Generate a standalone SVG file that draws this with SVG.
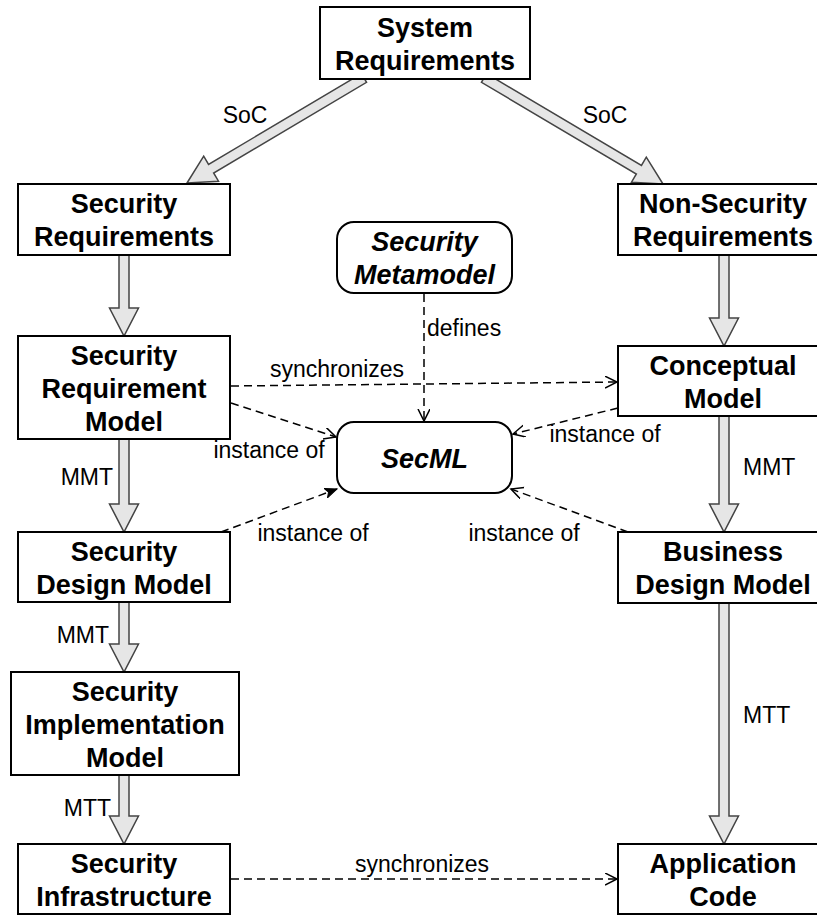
<svg xmlns="http://www.w3.org/2000/svg" width="817" height="915" viewBox="0 0 817 915">
<style>
.box{fill:#fff;stroke:#000;stroke-width:2}
.rbox{fill:#fff;stroke:#000;stroke-width:2}
.t{font-family:"Liberation Sans",Arial,sans-serif;font-size:27px;font-weight:bold;text-anchor:middle;fill:#000}
.ti{font-family:"Liberation Sans",Arial,sans-serif;font-size:27px;font-weight:bold;font-style:italic;text-anchor:middle;fill:#000}
.lbl{font-family:"Liberation Sans",Arial,sans-serif;font-size:23px;fill:#000}
.blk{fill:#e6e6e6;stroke:#444;stroke-width:1.5;stroke-linejoin:miter}
.dash{fill:none;stroke:#000;stroke-width:1.5;stroke-dasharray:8 5}
</style>
<defs>
<marker id="open" markerUnits="userSpaceOnUse" markerWidth="14" markerHeight="14" refX="12" refY="6" orient="auto">
<path d="M0,0 L12,6 L0,12" fill="none" stroke="#000" stroke-width="1.5"/>
</marker>
<marker id="filled" markerUnits="userSpaceOnUse" markerWidth="14" markerHeight="14" refX="12" refY="5" orient="auto">
<path d="M0,0 L12,5 L0,10 L3,5 Z" fill="#000" stroke="#000" stroke-width="1"/>
</marker>
</defs>
<g id="connectors">
<polygon class="blk" points="361.45,73.7 208.55,164.4 203.7,156.2 187,183 218.5,181.2 213.65,173 366.55,82.3"/>
<polygon class="blk" points="486.55,73.7 641.45,165.4 646.3,157.2 663,184 631.5,182.2 636.35,174 481.45,82.3"/>
<polygon class="blk" points="119,255 129,255 129,308 138.5,308 124,336 109.5,308 119,308"/>
<polygon class="blk" points="119,439 129,439 129,504 138.5,504 124,532 109.5,504 119,504"/>
<polygon class="blk" points="119,602 129,602 129,644 138.5,644 124,672 109.5,644 119,644"/>
<polygon class="blk" points="119,775 129,775 129,816 138.5,816 124,844 109.5,816 119,816"/>
<polygon class="blk" points="719,255 729,255 729,318 738.5,318 724,346 709.5,318 719,318"/>
<polygon class="blk" points="719,416 729,416 729,504 738.5,504 724,532 709.5,504 719,504"/>
<polygon class="blk" points="719,603 729,603 729,816 738.5,816 724,844 709.5,816 719,816"/>
<path class="dash" d="M231,386 L617,382" marker-end="url(#open)"/>
<path class="dash" d="M424,294 L424,421" marker-end="url(#open)"/>
<path class="dash" d="M231,403 L336,437" marker-end="url(#open)"/>
<path class="dash" d="M221,532 L337,489" marker-end="url(#filled)"/>
<path class="dash" d="M618,408 L513,434" marker-end="url(#open)"/>
<path class="dash" d="M628,532 L511,489" marker-end="url(#open)"/>
<path class="dash" d="M231,879 L617,879" marker-end="url(#open)"/>
<text class="lbl" x="245" y="123" text-anchor="middle">SoC</text>
<text class="lbl" x="605" y="123" text-anchor="middle">SoC</text>
<text class="lbl" x="337" y="377" text-anchor="middle">synchronizes</text>
<text class="lbl" x="427" y="336">defines</text>
<text class="lbl" x="269" y="458" text-anchor="middle">instance of</text>
<text class="lbl" x="313" y="541" text-anchor="middle">instance of</text>
<text class="lbl" x="605" y="442" text-anchor="middle">instance of</text>
<text class="lbl" x="524" y="541" text-anchor="middle">instance of</text>
<text class="lbl" x="113" y="485" text-anchor="end">MMT</text>
<text class="lbl" x="109" y="643" text-anchor="end">MMT</text>
<text class="lbl" x="111" y="816" text-anchor="end">MTT</text>
<text class="lbl" x="743" y="475">MMT</text>
<text class="lbl" x="743" y="723">MTT</text>
<text class="lbl" x="422" y="872" text-anchor="middle">synchronizes</text>
</g>
<g id="system-requirements">
<rect class="box" x="320" y="7" width="210" height="72"/>
<text class="t" x="425" y="36.5">System</text>
<text class="t" x="425" y="69.5">Requirements</text>
</g>
<g id="security-requirements">
<rect class="box" x="18" y="184" width="212" height="71"/>
<text class="t" x="124" y="213">Security</text>
<text class="t" x="124" y="246">Requirements</text>
</g>
<g id="non-security-requirements">
<rect class="box" x="618" y="184" width="212" height="71"/>
<text class="t" x="723" y="213">Non-Security</text>
<text class="t" x="723" y="246">Requirements</text>
</g>
<g id="security-metamodel">
<rect class="rbox" x="337" y="222" width="175" height="71" rx="17"/>
<text class="ti" x="424.5" y="251">Security</text>
<text class="ti" x="424.5" y="284">Metamodel</text>
</g>
<g id="security-requirement-model">
<rect class="box" x="18" y="336" width="212" height="103"/>
<text class="t" x="124" y="364.5">Security</text>
<text class="t" x="124" y="397.5">Requirement</text>
<text class="t" x="124" y="430.5">Model</text>
</g>
<g id="conceptual-model">
<rect class="box" x="618" y="346" width="212" height="70"/>
<text class="t" x="723" y="374.5">Conceptual</text>
<text class="t" x="723" y="407.5">Model</text>
</g>
<g id="secml">
<rect class="rbox" x="337" y="422" width="175" height="71" rx="17"/>
<text class="ti" x="424.5" y="467.5">SecML</text>
</g>
<g id="security-design-model">
<rect class="box" x="18" y="532" width="212" height="70"/>
<text class="t" x="124" y="560.5">Security</text>
<text class="t" x="124" y="593.5">Design Model</text>
</g>
<g id="business-design-model">
<rect class="box" x="618" y="532" width="212" height="71"/>
<text class="t" x="723" y="560.5">Business</text>
<text class="t" x="723" y="593.5">Design Model</text>
</g>
<g id="security-implementation-model">
<rect class="box" x="11" y="672" width="228" height="103"/>
<text class="t" x="125" y="700.5">Security</text>
<text class="t" x="125" y="733.5">Implementation</text>
<text class="t" x="125" y="766.5">Model</text>
</g>
<g id="security-infrastructure">
<rect class="box" x="18" y="844" width="212" height="70"/>
<text class="t" x="124" y="872.5">Security</text>
<text class="t" x="124" y="905.5">Infrastructure</text>
</g>
<g id="application-code">
<rect class="box" x="618" y="844" width="212" height="70"/>
<text class="t" x="723" y="872.5">Application</text>
<text class="t" x="723" y="905.5">Code</text>
</g>
</svg>
